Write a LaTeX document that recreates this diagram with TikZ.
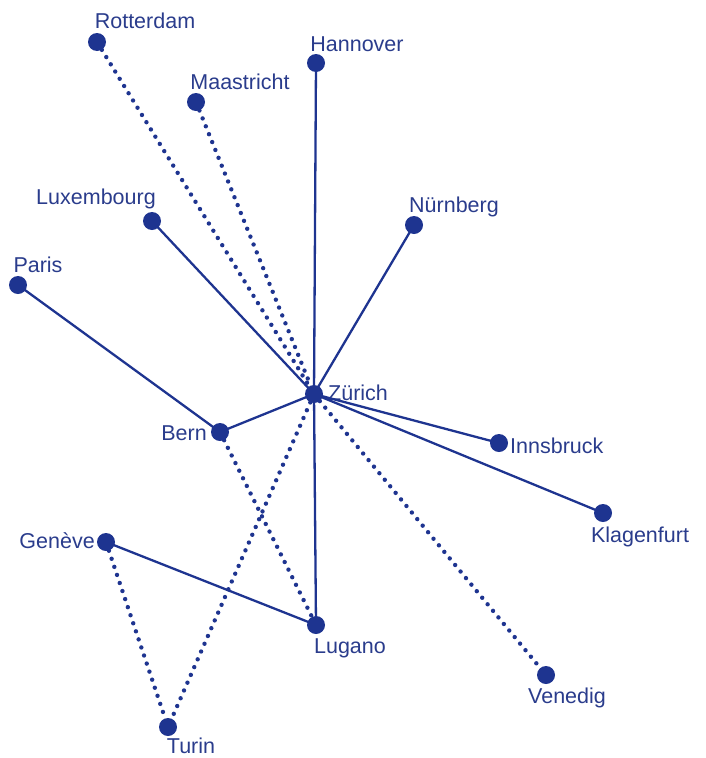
\documentclass[tikz,border=0pt]{standalone}
\usepackage{fontspec}
\setmainfont{Liberation Sans}
\definecolor{navy}{HTML}{1E3490}
\definecolor{txt}{HTML}{2A3C8C}
\begin{document}
\begin{tikzpicture}[x=1pt,y=-1pt,
  city/.style={circle,fill=navy,inner sep=0pt,minimum size=18pt},
  lbl/.style={text=txt,font=\fontsize{21.5}{24}\selectfont,inner sep=0pt},
  solidline/.style={draw=navy,line width=2.3pt},
  dotline/.style={draw=navy,line width=4.4pt,line cap=round,dash pattern=on 0pt off 8.5pt}]
\useasboundingbox (0,0) rectangle (706,758);
\node[city] (rot) at (97,42) {};
\node[city] (maa) at (196,102) {};
\node[city] (han) at (316,63) {};
\node[city] (lux) at (152,221) {};
\node[city] (nue) at (414,225) {};
\node[city] (par) at (18,285) {};
\node[city] (zur) at (314,394) {};
\node[city] (ber) at (220,432) {};
\node[city] (inn) at (499,443) {};
\node[city] (kla) at (603,513) {};
\node[city] (gen) at (106,542) {};
\node[city] (lug) at (316,625) {};
\node[city] (ven) at (546,675) {};
\node[city] (tur) at (168,727) {};
\node[lbl] (lrot) at (145,21) {Rotterdam};
\node[lbl] (lmaa) at (240,82) {Maastricht};
\node[lbl] (lhan) at (357,44) {Hannover};
\node[lbl] (llux) at (96,199) {Luxembourg};
\node[lbl] (lnue) at (454,207) {Nürnberg};
\node[lbl] (lpar) at (38,265) {Paris};
\node[lbl,anchor=west] (lzur) at (328,393) {Zürich};
\node[lbl,anchor=east] (lber) at (207,433) {Bern};
\node[lbl,anchor=west] (linn) at (510,446) {Innsbruck};
\node[lbl] (lkla) at (640,537) {Klagenfurt};
\node[lbl,anchor=east] (lgen) at (95,541) {Genève};
\node[lbl] (llug) at (350,648) {Lugano};
\node[lbl] (lven) at (567,698) {Venedig};
\node[lbl] (ltur) at (191,746) {Turin};
\draw[solidline] (han.center) -- (zur.center);
\draw[solidline] (lux.center) -- (zur.center);
\draw[solidline] (nue.center) -- (zur.center);
\draw[solidline] (par.center) -- (ber.center);
\draw[solidline] (ber.center) -- (zur.center);
\draw[solidline] (zur.center) -- (inn.center);
\draw[solidline] (zur.center) -- (kla.center);
\draw[solidline] (zur.center) -- (lug.center);
\draw[solidline] (gen.center) -- (lug.center);
\draw[dotline] (rot) -- (zur);
\draw[dotline] (maa) -- (zur);
\draw[dotline] (zur) -- (tur);
\draw[dotline] (ber) -- (lug);
\draw[dotline] (zur) -- (ven);
\draw[dotline] (gen) -- (tur);
\end{tikzpicture}
\end{document}
